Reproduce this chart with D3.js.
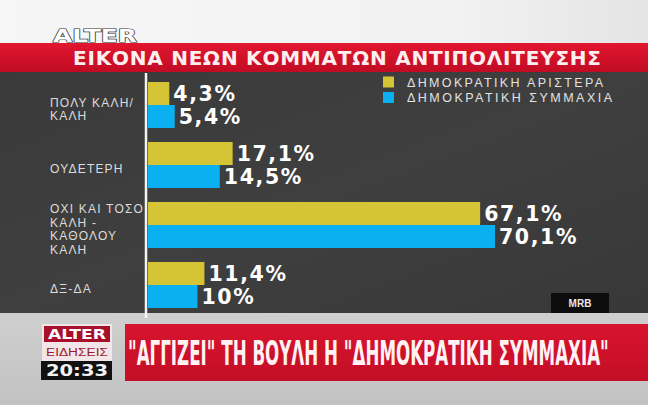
<!DOCTYPE html>
<html>
<head>
<meta charset="utf-8">
<script src="https://cdn.jsdelivr.net/npm/d3@7"></script>
<style>
  html, body { margin: 0; padding: 0; background: #fff; }
  svg { display: block; }
</style>
</head>
<body>
<div id="chart"></div>
<script>
// ---- data ----
const categories = ["ΠΟΛΥ ΚΑΛΗ/ ΚΑΛΗ", "ΟΥΔΕΤΕΡΗ", "ΟΧΙ ΚΑΙ ΤΟΣΟ ΚΑΛΗ - ΚΑΘΟΛΟΥ ΚΑΛΗ", "ΔΞ-ΔΑ"];
const categoryLines = [["ΠΟΛΥ ΚΑΛΗ/", "ΚΑΛΗ"], ["ΟΥΔΕΤΕΡΗ"], ["ΟΧΙ ΚΑΙ ΤΟΣΟ", "ΚΑΛΗ -", "ΚΑΘΟΛΟΥ", "ΚΑΛΗ"], ["ΔΞ-ΔΑ"]];
const seriesNames = ["ΔΗΜΟΚΡΑΤΙΚΗ ΑΡΙΣΤΕΡΑ", "ΔΗΜΟΚΡΑΤΙΚΗ ΣΥΜΜΑΧΙΑ"];
const dimarValues = [4.3, 17.1, 67.1, 11.4];
const disyValues = [5.4, 14.5, 70.1, 10];
const titleText = "ΕΙΚΟΝΑ ΝΕΩΝ ΚΟΜΜΑΤΩΝ ΑΝΤΙΠΟΛΙΤΕΥΣΗΣ";
const tickerText = "\"ΑΓΓΙΖΕΙ\" ΤΗ ΒΟΥΛΗ Η \"ΔΗΜΟΚΡΑΤΙΚΗ ΣΥΜΜΑΧΙΑ\"";
const sourceText = "MRB";
const clockText = "20:33";

const W = 648, H = 405;
const colors = ["#d6c437", "#0ab0f0"];

const svg = d3.select("#chart").append("svg").attr("width", W).attr("height", H);
const defs = svg.append("defs");

const gTop = defs.append("linearGradient").attr("id", "gTop").attr("x1", 0).attr("x2", 1).attr("y1", 0).attr("y2", 0);
gTop.append("stop").attr("offset", "0").attr("stop-color", "#f6f6f6");
gTop.append("stop").attr("offset", "0.7").attr("stop-color", "#f2f2f2");
gTop.append("stop").attr("offset", "1").attr("stop-color", "#e4e4e4");

const gRed = defs.append("linearGradient").attr("id", "gRed").attr("x1", 0).attr("x2", 0).attr("y1", 0).attr("y2", 1);
gRed.append("stop").attr("offset", "0").attr("stop-color", "#e2162f");
gRed.append("stop").attr("offset", "1").attr("stop-color", "#c10c24");

const gDark = defs.append("linearGradient").attr("id", "gDark").attr("x1", 0).attr("x2", 1).attr("y1", 0).attr("y2", 1);
gDark.append("stop").attr("offset", "0").attr("stop-color", "#3a3a3a");
gDark.append("stop").attr("offset", "0.5").attr("stop-color", "#3f3f3f");
gDark.append("stop").attr("offset", "1").attr("stop-color", "#383838");

const gBottom = defs.append("linearGradient").attr("id", "gBottom").attr("x1", 0).attr("x2", 0).attr("y1", 0).attr("y2", 1);
gBottom.append("stop").attr("offset", "0").attr("stop-color", "#cfcfcf");
gBottom.append("stop").attr("offset", "1").attr("stop-color", "#c2c2c2");

const gTicker = defs.append("linearGradient").attr("id", "gTicker").attr("x1", 0).attr("x2", 0).attr("y1", 0).attr("y2", 1);
gTicker.append("stop").attr("offset", "0").attr("stop-color", "#d8142e");
gTicker.append("stop").attr("offset", "1").attr("stop-color", "#c40e26");

// backgrounds
svg.append("rect").attr("x", 0).attr("y", 0).attr("width", W).attr("height", 43).attr("fill", "url(#gTop)");
svg.append("rect").attr("x", 0).attr("y", 43).attr("width", W).attr("height", 29).attr("fill", "url(#gRed)");
svg.append("rect").attr("x", 0).attr("y", 72).attr("width", W).attr("height", 241).attr("fill", "url(#gDark)");
svg.append("rect").attr("x", 0).attr("y", 313).attr("width", W).attr("height", H - 313).attr("fill", "url(#gBottom)");

// helper: squeeze a text horizontally to a target width with a transform
function fitText(sel, x0, y0, targetW) {
  const w = sel.node().getComputedTextLength();
  sel.attr("x", 0).attr("y", 0)
     .attr("transform", `translate(${x0},${y0}) scale(${targetW / w},1)`);
}

// top logo
const topLogo = svg.append("text")
  .attr("font-family", "DejaVu Sans").attr("font-weight", "bold").attr("font-size", 17)
  .attr("fill", "#ffffff").attr("stroke", "#333").attr("stroke-width", 1.2).attr("paint-order", "stroke")
  .text("ALTER");
fitText(topLogo, 53, 42, 84);

// title
svg.append("text").attr("x", 73).attr("y", 65)
  .attr("font-family", "DejaVu Sans").attr("font-weight", "bold").attr("font-size", 20)
  .attr("textLength", 528).attr("lengthAdjust", "spacing")
  .attr("fill", "#fdeef0").text(titleText);

// scales
const y = d3.scaleBand().domain(categories).range([82, 308]).paddingInner(0.233).paddingOuter(0);
const ySub = d3.scaleBand().domain(seriesNames).range([0, y.bandwidth()]).padding(0);
const x = d3.scaleLinear().domain([0, 70]).range([148, 494.5]);

const fmtLocale = d3.formatLocale({ decimal: ",", thousands: ".", grouping: [3], currency: ["", "€"] });
const fmt = fmtLocale.format(".3~");

const seriesValues = [dimarValues, disyValues];

// bars
const groups = svg.append("g").selectAll("g").data(categories).join("g")
  .attr("transform", d => `translate(0,${y(d)})`);

seriesNames.forEach((s, si) => {
  groups.append("rect")
    .attr("x", x(0))
    .attr("y", ySub(s))
    .attr("width", (d, i) => x(seriesValues[si][i]) - x(0))
    .attr("height", ySub.bandwidth())
    .attr("fill", colors[si]);
  groups.append("text")
    .attr("x", (d, i) => x(seriesValues[si][i]) + 4)
    .attr("y", ySub(s) + ySub.bandwidth() / 2)
    .attr("dy", "0.37em")
    .attr("font-family", "DejaVu Sans").attr("font-weight", "bold").attr("font-size", 20.5)
    .attr("letter-spacing", 1.6)
    .attr("fill", "#ffffff")
    .text((d, i) => fmt(seriesValues[si][i]) + "%");
});

// axis line
svg.append("line").attr("x1", 146).attr("x2", 146).attr("y1", 73).attr("y2", 318)
  .attr("stroke", "#f4f4f4").attr("stroke-width", 2.5);

// category labels
const lh = 13.5;
groups.each(function(d, i) {
  const lines = categoryLines[i];
  const c = y.bandwidth() / 2 + 4;
  const t = d3.select(this).append("text")
    .attr("font-family", "Liberation Sans, Arial, sans-serif").attr("font-size", 12)
    .attr("letter-spacing", 1.2).attr("fill", "#dcdcdc");
  lines.forEach((ln, k) => {
    t.append("tspan").attr("x", 50)
      .attr("y", c + (k - (lines.length - 1) / 2) * lh)
      .attr("dy", "0.36em").text(ln);
  });
});

// legend
const legendW = [196, 205];
seriesNames.forEach((s, i) => {
  const ly = 82 + i * 15.5;
  svg.append("rect").attr("x", 383).attr("y", ly - 5.5).attr("width", 11).attr("height", 11).attr("fill", colors[i]);
  svg.append("text").attr("x", 407).attr("y", ly).attr("dy", "0.36em")
    .attr("font-family", "Liberation Sans, Arial, sans-serif").attr("font-size", 12.5)
    .attr("textLength", legendW[i]).attr("lengthAdjust", "spacing")
    .attr("fill", "#e2e2e2").text(s);
});

// source box
svg.append("rect").attr("x", 551).attr("y", 293).attr("width", 58).attr("height", 20).attr("fill", "#0c0c0c");
svg.append("text").attr("x", 580).attr("y", 303).attr("dy", "0.36em").attr("text-anchor", "middle")
  .attr("font-family", "Liberation Sans, Arial, sans-serif").attr("font-weight", "bold").attr("font-size", 10)
  .attr("fill", "#e8e8e8").text(sourceText);

// bottom logo
svg.append("rect").attr("x", 42).attr("y", 324).attr("width", 70).attr("height", 56).attr("fill", "#f3e6e8");
svg.append("rect").attr("x", 44).attr("y", 326).attr("width", 66).attr("height", 16).attr("fill", "#a8102a");
const bl1 = svg.append("text")
  .attr("font-family", "DejaVu Sans").attr("font-weight", "bold").attr("font-size", 14)
  .attr("fill", "#ffffff").text("ALTER");
fitText(bl1, 48, 339, 58);
const bl2 = svg.append("text")
  .attr("font-family", "Liberation Sans, Arial, sans-serif").attr("font-size", 11)
  .attr("fill", "#9c1a2c").text("ΕΙΔΗΣΕΙΣ");
fitText(bl2, 46, 356, 62);
svg.append("rect").attr("x", 41).attr("y", 361).attr("width", 71).attr("height", 19).attr("fill", "#111111");
const bl3 = svg.append("text")
  .attr("font-family", "DejaVu Sans").attr("font-weight", "bold").attr("font-size", 15)
  .attr("fill", "#f4f4f4").text(clockText);
fitText(bl3, 46, 376, 62);

// ticker
svg.append("rect").attr("x", 125).attr("y", 324).attr("width", W - 125).attr("height", 57).attr("fill", "url(#gTicker)");
const tick = svg.append("text")
  .attr("font-family", "DejaVu Sans Condensed, DejaVu Sans").attr("font-weight", "bold").attr("font-size", 34)
  .attr("font-stretch", "condensed")
  .attr("fill", "#fff2f4").text(tickerText);
fitText(tick, 128, 365, 481);
</script>
</body>
</html>
